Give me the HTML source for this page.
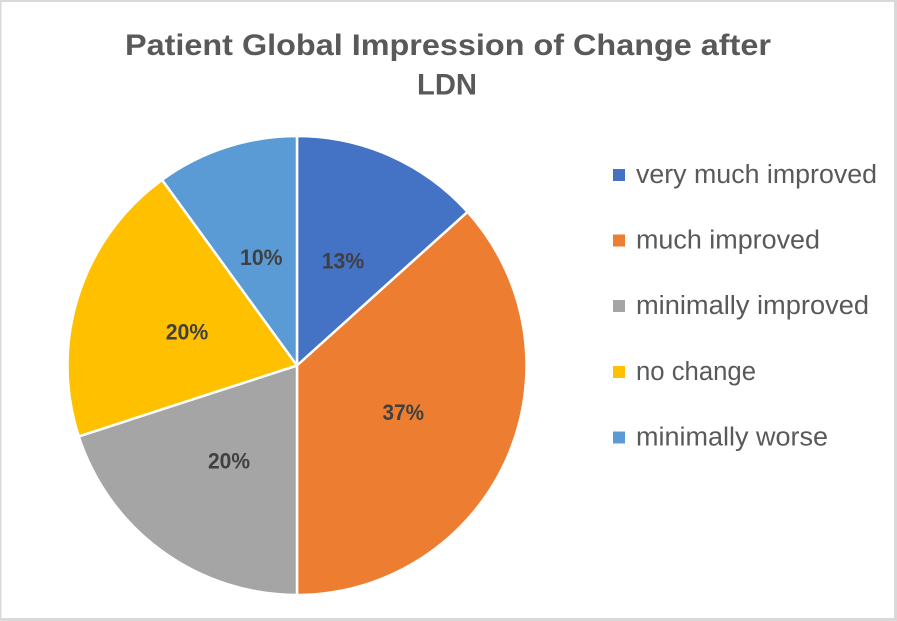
<!DOCTYPE html>
<html>
<head>
<meta charset="utf-8">
<style>
  html, body { margin: 0; padding: 0; background: #ffffff; }
  body { width: 897px; height: 621px; overflow: hidden; }
  svg { display: block; }
</style>
</head>
<body>
<svg width="897" height="621" viewBox="0 0 897 621" xmlns="http://www.w3.org/2000/svg">
  <rect x="0" y="0" width="897" height="621" fill="#ffffff"/>
  <!-- chart border -->
  <rect x="0" y="0" width="897" height="2" fill="#d9d9d9"/>
  <rect x="0" y="0" width="1.5" height="621" fill="#d9d9d9"/>
  <rect x="894" y="0" width="3" height="621" fill="#d9d9d9"/>
  <rect x="0" y="618" width="897" height="3" fill="#d9d9d9"/>

  <!-- title -->
  <g font-family="'Liberation Sans', sans-serif" font-weight="bold" font-size="29.5" fill="#595959">
    <text x="125" y="55" textLength="646" lengthAdjust="spacingAndGlyphs">Patient Global Impression of Change after</text>
    <text x="417" y="94.5" textLength="60" lengthAdjust="spacingAndGlyphs">LDN</text>
  </g>

  <!-- pie -->
  <g stroke="#ffffff" stroke-width="2.5" stroke-linejoin="round">
    <path d="M297,365.5 L297,136 A229.5,229.5 0 0 1 467.55,211.93 Z" fill="#4472C4"/>
    <path d="M297,365.5 L467.55,211.93 A229.5,229.5 0 0 1 297,595 Z" fill="#ED7D31"/>
    <path d="M297,365.5 L297,595 A229.5,229.5 0 0 1 78.73,436.42 Z" fill="#A5A5A5"/>
    <path d="M297,365.5 L78.73,436.42 A229.5,229.5 0 0 1 162.10,179.83 Z" fill="#FFC000"/>
    <path d="M297,365.5 L162.10,179.83 A229.5,229.5 0 0 1 297,136 Z" fill="#5B9BD5"/>
  </g>

  <!-- data labels -->
  <g font-family="'Liberation Sans', sans-serif" font-weight="bold" font-size="22" fill="#404040" text-anchor="middle">
    <text x="261.3" y="265" textLength="42.5" lengthAdjust="spacingAndGlyphs">10%</text>
    <text x="343" y="268.3" textLength="42.5" lengthAdjust="spacingAndGlyphs">13%</text>
    <text x="187" y="339.3" textLength="42.5" lengthAdjust="spacingAndGlyphs">20%</text>
    <text x="403.3" y="420" textLength="41.5" lengthAdjust="spacingAndGlyphs">37%</text>
    <text x="229" y="468.3" textLength="42" lengthAdjust="spacingAndGlyphs">20%</text>
  </g>

  <!-- legend -->
  <g>
    <rect x="613" y="169" width="12" height="12" fill="#4472C4"/>
    <rect x="613" y="234.5" width="12" height="12" fill="#ED7D31"/>
    <rect x="613" y="300" width="12" height="12" fill="#A5A5A5"/>
    <rect x="613" y="366" width="12" height="12" fill="#FFC000"/>
    <rect x="613" y="431.5" width="12" height="12" fill="#5B9BD5"/>
  </g>
  <g font-family="'Liberation Sans', sans-serif" font-size="25.5" fill="#595959">
    <text x="636" y="183" textLength="241" lengthAdjust="spacingAndGlyphs">very much improved</text>
    <text x="636" y="248.5" textLength="184" lengthAdjust="spacingAndGlyphs">much improved</text>
    <text x="636" y="314" textLength="233" lengthAdjust="spacingAndGlyphs">minimally improved</text>
    <text x="636" y="380" textLength="120" lengthAdjust="spacingAndGlyphs">no change</text>
    <text x="636" y="445.5" textLength="192" lengthAdjust="spacingAndGlyphs">minimally worse</text>
  </g>
</svg>
</body>
</html>
